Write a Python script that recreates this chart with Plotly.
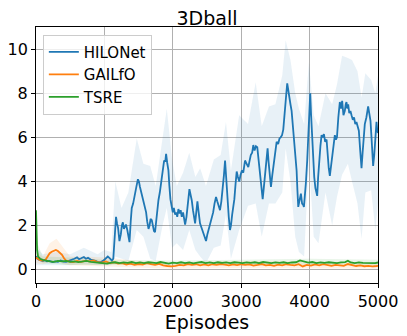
import plotly.graph_objects as go

# HILONet mean curve
hilo_x = [0, 20, 40, 70, 100, 130, 160, 200, 240, 280, 320, 360, 400, 440, 480, 520, 560, 600, 630, 660,
          700, 730, 760, 800, 840, 870, 900, 940, 980, 1020, 1050, 1080, 1110, 1130, 1150, 1170, 1185, 1200,
          1220, 1240, 1255, 1270, 1285, 1300, 1315, 1335, 1350, 1367, 1385, 1400, 1420, 1435, 1450, 1470,
          1490, 1505, 1520, 1540, 1555, 1570, 1590, 1610, 1625, 1645, 1660, 1675, 1693, 1710, 1725, 1740,
          1760, 1775, 1790, 1810, 1825, 1840, 1855, 1873, 1890, 1902, 1918, 1936, 1950, 1965, 1985, 2000,
          2015, 2034, 2050, 2065, 2082, 2100, 2115, 2131, 2150, 2165, 2180, 2200, 2220, 2243, 2260, 2277,
          2295, 2310, 2326, 2343, 2360, 2378, 2398, 2420, 2440, 2460, 2486, 2505, 2525, 2545, 2565, 2590,
          2610, 2632, 2650, 2670, 2690, 2710, 2730, 2748, 2764, 2782, 2800, 2818, 2836, 2850, 2868, 2885,
          2900, 2918, 2934, 2952, 2972, 2990, 3010, 3030, 3056, 3080, 3104, 3120, 3140, 3160, 3177, 3195,
          3215, 3235, 3255, 3274, 3294, 3314, 3330, 3347, 3365, 3386, 3400, 3418, 3435, 3455, 3479, 3500,
          3518, 3540, 3560, 3577, 3597, 3615, 3630, 3645, 3660, 3673, 3688, 3705, 3720, 3737, 3755, 3775,
          3795, 3810, 3822, 3834, 3850, 3862, 3873, 3890, 3905, 3917, 3930, 3945, 3965, 3980, 3995, 4009,
          4022, 4037, 4053, 4068, 4085, 4100, 4111, 4125, 4140, 4158, 4175, 4192, 4209, 4228, 4248, 4265,
          4280, 4296, 4312, 4330, 4350, 4369, 4385, 4400, 4420, 4442, 4460, 4476, 4495, 4515, 4528, 4539,
          4552, 4564, 4580, 4597, 4613, 4632, 4650, 4668, 4685, 4703, 4720, 4740, 4759, 4775, 4790, 4807,
          4830, 4856, 4872, 4890, 4905, 4918, 4929, 4945, 4960, 4978, 4990, 5000]
hilo_y = [0.62, 0.5, 0.46, 0.42, 0.4, 0.44, 0.38, 0.4, 0.35, 0.38, 0.36, 0.42, 0.37, 0.36, 0.4, 0.44, 0.5,
          0.56, 0.48, 0.52, 0.58, 0.5, 0.54, 0.46, 0.44, 0.4, 0.36, 0.34, 0.4, 0.5, 0.6, 0.52, 0.42, 0.5,
          1.4, 2.4, 2.1, 1.9, 1.3, 1.6, 2.0, 2.15, 1.85, 1.95, 2.05, 1.8, 1.5, 1.25, 2.2, 2.8, 3.0, 3.3, 3.45,
          3.8, 4.1, 4.0, 3.75, 3.5, 3.2, 3.0, 2.75, 2.6, 2.2, 1.85, 2.0, 2.3, 2.25, 1.9, 1.75, 1.7, 2.4, 2.9,
          3.15, 3.5, 3.9, 4.2, 4.6, 4.95, 4.9, 5.25, 4.85, 4.5, 3.8, 3.2, 2.85, 2.6, 2.8, 2.5, 2.6, 2.4,
          2.75, 2.55, 2.7, 2.4, 2.6, 2.3, 2.05, 2.4, 2.9, 3.65, 3.4, 3.15, 2.7, 2.3, 2.1, 2.6, 3.1, 2.6,
          2.1, 1.9, 1.7, 1.55, 1.3, 1.6, 1.85, 2.1, 2.3, 2.6, 3.0, 3.3, 3.1, 2.9, 2.7, 3.1, 3.6, 4.3, 4.95,
          4.0, 3.2, 2.4, 1.8, 2.0, 2.5, 2.8, 3.2, 3.9, 4.45, 4.2, 4.0, 4.3, 4.5, 4.4, 4.95, 4.8, 4.65, 4.9,
          5.2, 5.3, 5.65, 5.4, 5.6, 5.55, 5.0, 4.35, 3.7, 3.2, 3.7, 4.35, 5.0, 5.5, 4.9, 4.2, 3.75, 4.3,
          4.95, 5.4, 5.8, 5.7, 5.95, 6.0, 6.1, 6.35, 6.8, 7.4, 8.0, 8.45, 8.2, 7.9, 7.5, 7.2, 6.6, 5.7, 5.0,
          4.5, 3.6, 2.85, 3.1, 3.4, 3.45, 3.0, 2.95, 2.85, 3.2, 3.9, 4.95, 6.2, 7.3, 8.0, 7.0, 5.8, 4.95,
          4.2, 3.7, 3.4, 3.35, 4.2, 5.0, 5.6, 6.1, 6.0, 6.15, 5.8, 5.9, 5.1, 4.6, 4.25, 4.7, 5.2, 5.8, 6.1,
          5.9, 6.0, 6.9, 7.6, 7.3, 7.65, 7.0, 7.2, 7.5, 7.6, 7.3, 7.5, 7.1, 7.2, 7.0, 6.8, 6.9, 6.6, 6.7,
          6.5, 6.3, 5.4, 4.6, 5.3, 6.1, 6.6, 6.9, 7.4, 7.1, 6.75, 6.0, 5.2, 4.7, 5.2, 5.8, 6.7, 6.3, 6.2]

# HILONet shaded band
hilo_band_x = [0, 100, 300, 500, 700, 900, 1000, 1100, 1160, 1250, 1350, 1473, 1570, 1670, 1750, 1850,
               1912, 1990, 2058, 2150, 2241, 2330, 2400, 2485, 2600, 2700, 2777, 2850, 2970, 3100, 3212,
               3300, 3406, 3500, 3600, 3650, 3720, 3790, 3844, 3920, 3990, 4060, 4130, 4232, 4330, 4400,
               4475, 4560, 4620, 4700, 4760, 4815, 4900, 4961, 5000]
hilo_upper = [1.0, 0.7, 0.8, 0.7, 1.0, 0.7, 0.9, 0.8, 4.0, 2.8, 3.5, 5.95, 4.8, 4.7, 3.8, 6.0, 7.3, 5.0,
              3.8, 4.4, 5.3, 4.2, 4.6, 3.8, 5.0, 5.2, 6.7, 4.5, 7.0, 6.6, 8.5, 6.5, 7.4, 7.5, 8.8, 10.4,
              9.5, 8.0, 7.3, 6.6, 9.4, 7.0, 6.5, 8.0, 7.5, 8.4, 9.7, 9.6, 9.5, 9.0, 7.8, 8.9, 8.6, 8.0, 8.8]
hilo_lower = [0.2, 0.2, 0.2, 0.2, 0.25, 0.2, 0.2, 0.2, 0.6, 0.5, 0.4, 1.8, 1.5, 0.5, 0.4, 2.0, 2.8, 1.0,
              1.2, 0.9, 1.8, 0.9, 0.6, 0.3, 1.0, 1.1, 2.5, 0.5, 1.8, 2.9, 3.0, 1.5, 3.0, 3.0, 3.5, 5.5,
              4.0, 1.5, 0.8, 0.6, 5.0, 1.5, 1.2, 3.5, 2.0, 3.3, 4.3, 4.8, 4.0, 3.0, 1.4, 3.5, 3.6, 1.8, 3.0]

# GAILfO mean curve
gail_x = [0, 30, 60, 100, 140, 170, 200, 230, 260, 290, 320, 350, 380, 410, 440, 480, 540, 600, 660, 720,
          780, 840, 900, 960, 1020, 1080, 1140, 1200, 1260, 1320, 1380, 1440, 1500, 1560, 1620, 1680, 1740,
          1800, 1860, 1920, 1980, 2040, 2100, 2160, 2220, 2280, 2340, 2400, 2460, 2520, 2580, 2640, 2700,
          2760, 2820, 2880, 2940, 3000, 3060, 3120, 3180, 3240, 3300, 3360, 3420, 3480, 3540, 3600, 3660,
          3720, 3780, 3840, 3900, 3960, 4020, 4080, 4140, 4200, 4260, 4320, 4380, 4440, 4500, 4560, 4620,
          4680, 4740, 4800, 4860, 4920, 4980, 5000]
gail_y = [0.55, 0.48, 0.44, 0.42, 0.45, 0.6, 0.75, 0.82, 0.88, 0.9, 0.85, 0.78, 0.68, 0.52, 0.42, 0.38,
          0.35, 0.4, 0.36, 0.4, 0.38, 0.42, 0.35, 0.32, 0.38, 0.3, 0.34, 0.28, 0.3, 0.24, 0.28, 0.22, 0.26,
          0.24, 0.3, 0.26, 0.22, 0.27, 0.2, 0.17, 0.15, 0.18, 0.22, 0.2, 0.26, 0.22, 0.25, 0.2, 0.24, 0.2,
          0.25, 0.22, 0.26, 0.23, 0.2, 0.24, 0.21, 0.25, 0.22, 0.24, 0.19, 0.22, 0.26, 0.2, 0.22, 0.18, 0.23,
          0.2, 0.25, 0.22, 0.2, 0.25, 0.15, 0.22, 0.19, 0.24, 0.2, 0.25, 0.22, 0.18, 0.22, 0.2, 0.18, 0.26,
          0.2, 0.17, 0.2, 0.16, 0.18, 0.15, 0.17, 0.18]
gail_band_x = [0, 100, 200, 300, 400, 500, 700, 1000, 1500, 2000, 3000, 4000, 5000]
gail_upper = [0.8, 0.6, 1.2, 1.4, 1.0, 0.6, 0.6, 0.55, 0.4, 0.35, 0.4, 0.38, 0.33]
gail_lower = [0.3, 0.25, 0.35, 0.45, 0.25, 0.2, 0.18, 0.15, 0.1, 0.05, 0.08, 0.07, 0.05]

# TSRE mean curve
tsre_x = [0, 8, 16, 30, 60, 100, 150, 200, 260, 320, 380, 440, 500, 560, 620, 680, 740, 800, 860, 920,
          980, 1040, 1100, 1160, 1220, 1280, 1340, 1400, 1460, 1520, 1580, 1640, 1700, 1760, 1820, 1880,
          1940, 2000, 2060, 2120, 2180, 2240, 2300, 2360, 2420, 2480, 2540, 2600, 2660, 2720, 2780, 2840,
          2900, 2960, 3020, 3080, 3140, 3200, 3260, 3320, 3380, 3440, 3500, 3560, 3620, 3680, 3740, 3800,
          3860, 3920, 3980, 4040, 4100, 4160, 4220, 4280, 4340, 4400, 4460, 4520, 4560, 4600, 4660, 4720,
          4780, 4840, 4900, 4960, 5000]
tsre_y = [2.7, 1.5, 0.9, 0.6, 0.5, 0.45, 0.4, 0.38, 0.36, 0.4, 0.38, 0.4, 0.36, 0.38, 0.35, 0.38, 0.4,
          0.36, 0.34, 0.33, 0.3, 0.28, 0.32, 0.34, 0.3, 0.33, 0.31, 0.35, 0.3, 0.33, 0.3, 0.34, 0.32, 0.3,
          0.35, 0.3, 0.28, 0.32, 0.3, 0.34, 0.3, 0.33, 0.29, 0.32, 0.35, 0.3, 0.33, 0.3, 0.34, 0.31, 0.33,
          0.3, 0.34, 0.32, 0.3, 0.33, 0.31, 0.34, 0.3, 0.35, 0.32, 0.3, 0.33, 0.31, 0.34, 0.3, 0.33, 0.34,
          0.42, 0.36, 0.32, 0.35, 0.3, 0.33, 0.31, 0.34, 0.32, 0.3, 0.33, 0.35, 0.41, 0.33, 0.3, 0.33, 0.31,
          0.3, 0.28, 0.3, 0.33]
tsre_band_x = [0, 20, 100, 500, 1000, 2000, 3000, 4000, 5000]
tsre_upper = [2.8, 1.2, 0.6, 0.55, 0.45, 0.42, 0.45, 0.5, 0.45]
tsre_lower = [2.6, 0.5, 0.3, 0.22, 0.2, 0.2, 0.2, 0.2, 0.2]

FONT = "DejaVu Sans"

fig = go.Figure()

series = [
    ("HILONet", "#1f77b4", "rgba(31,119,180,0.1)", hilo_x, hilo_y, hilo_band_x, hilo_upper, hilo_lower),
    ("GAILfO", "#ff7f0e", "rgba(255,127,14,0.1)", gail_x, gail_y, gail_band_x, gail_upper, gail_lower),
    ("TSRE", "#2ca02c", "rgba(44,160,44,0.1)", tsre_x, tsre_y, tsre_band_x, tsre_upper, tsre_lower),
]

# bands first, then lines on top
for name, color, fill, x, y, bx, up, lo in series:
    fig.add_trace(go.Scatter(
        x=bx + bx[::-1],
        y=up + lo[::-1],
        fill="toself",
        fillcolor=fill,
        line=dict(width=0),
        mode="lines",
        hoverinfo="skip",
        showlegend=False,
    ))

for name, color, fill, x, y, bx, up, lo in series:
    fig.add_trace(go.Scatter(
        x=x,
        y=y,
        mode="lines",
        name=name,
        line=dict(color=color, width=1.8),
    ))

axis_common = dict(
    automargin=False,
    showgrid=True,
    gridcolor="#b0b0b0",
    gridwidth=1,
    showline=True,
    linecolor="black",
    linewidth=1,
    mirror=True,
    ticks="outside",
    ticklen=4,
    tickcolor="black",
    zeroline=False,
    tickfont=dict(family=FONT, size=16, color="black"),
)

fig.update_xaxes(
    range=[0, 5000],
    tickvals=[0, 1000, 2000, 3000, 4000, 5000],
    title=dict(text="Episodes", font=dict(family=FONT, size=19, color="black"), standoff=2),
    **axis_common,
)
fig.update_yaxes(
    range=[-0.6, 11],
    tickvals=[0, 2, 4, 6, 8, 10],
    **axis_common,
)

# page body adds an 8px offset, margins compensate
fig.update_layout(
    width=407,
    height=336,
    margin=dict(l=28, r=37, t=19, b=61),
    paper_bgcolor="white",
    plot_bgcolor="white",
    font=dict(family=FONT, color="black"),
    title=dict(
        text="3Dball",
        font=dict(family=FONT, size=19, color="black"),
        x=0.5,
        xref="paper",
        xanchor="center",
        y=0.968,
        yref="container",
        yanchor="middle",
        automargin=False,
    ),
    legend=dict(
        x=0.02,
        y=0.97,
        xanchor="left",
        yanchor="top",
        bgcolor="rgba(255,255,255,0.8)",
        bordercolor="#cccccc",
        borderwidth=1,
        font=dict(family=FONT, size=15, color="black"),
        tracegroupgap=0,
    ),
    showlegend=True,
)

fig.write_html("out.html")
